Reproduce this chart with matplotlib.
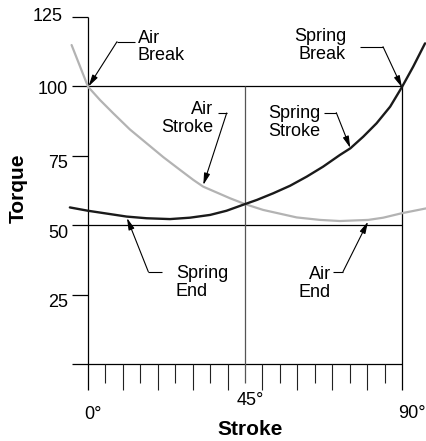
import matplotlib
matplotlib.use('Agg')
import matplotlib.pyplot as plt
from matplotlib import transforms

plt.rcParams['font.family'] = ['Liberation Sans', 'DejaVu Sans']

# ---- data ----
spring_stroke = [-5.2, 0.0, 11.1, 16.8, 23.5, 29.2, 35.0, 39.7, 45.0, 48.4, 53.1, 57.9,
                 62.7, 67.4, 72.2, 75.2, 78.9, 82.7, 86.6, 90.0, 93.2, 96.6]
spring_torque = [56.4, 55.2, 53.1, 52.5, 52.2, 52.7, 53.7, 55.2, 57.6, 59.1, 61.5, 64.2,
                 67.5, 71.1, 75.3, 77.7, 81.9, 86.7, 92.7, 99.8, 107.1, 115.5]
air_stroke = [-4.7, 0.0, 3.44, 7.25, 12.0, 16.8, 21.6, 26.4, 30.2, 33.0, 40.7, 45.0,
              50.2, 59.8, 66.5, 72.2, 80.3, 84.6, 89.9, 97.1]
air_torque = [114.9, 99.9, 95.1, 90.3, 84.5, 79.5, 74.5, 69.9, 66.3, 63.9, 59.7, 57.6,
              55.5, 52.8, 51.9, 51.5, 51.9, 52.7, 54.3, 56.1]

y_ticks = [25, 50, 75, 100, 125]
y_labels = ['25', '50', '75', '100', '125']
grid_levels = [0, 50, 100]
x_ticks = [0, 45, 90]
x_labels = ['0°', '45°', '90°']
minor_x = list(range(5, 90, 5))

fig = plt.figure(figsize=(4.27, 4.41), dpi=100)
ax = fig.add_axes([0, 0, 1, 1])
ax.set_xlim(-25.22, 97.16)
ax.set_ylim(-27.74, 131.12)
ax.axis('off')

def P(xp, yp):
    """pixel (from top-left) -> data coords"""
    return ((xp - 88) / 3.489, (364 - yp) / 2.776)

LW = 0.9
left_ext = P(72, 0)[0]
long_len = P(0, 390)[1]
short_len = P(0, 383)[1]

# y ticks (short outward lines)
for v in y_ticks:
    if v not in grid_levels:
        ax.plot([left_ext, 0], [v, v], color='k', lw=LW, solid_capstyle='butt')
# horizontal lines
for v in grid_levels:
    ax.plot([left_ext, 90], [v, v], color='k', lw=LW, solid_capstyle='butt')
# vertical lines
ax.plot([0, 0], [long_len, 125], color='k', lw=LW, solid_capstyle='butt')
ax.plot([45, 45], [short_len, 100], color='#555555', lw=LW, solid_capstyle='butt')
ax.plot([90, 90], [long_len, 100], color='k', lw=LW, solid_capstyle='butt')
# bottom ticks
for d in minor_x:
    if d == 45:
        continue
    bot = long_len if d % 10 == 0 else short_len
    ax.plot([d, d], [bot, 0], color='#222222', lw=0.8, solid_capstyle='butt')

# curves
ax.plot(air_stroke, air_torque, color='#b3b3b3', lw=1.6, solid_capstyle='round',
        solid_joinstyle='round')
ax.plot(spring_stroke, spring_torque, color='#1a1a1a', lw=1.7, solid_capstyle='round',
        solid_joinstyle='round')

FS = 13
# y tick labels
for v, lab in zip(y_ticks, y_labels):
    if v == 125:
        dx, dy = -25, 0
    elif v == 100:
        dx, dy = -20, -3
    else:
        dx, dy = -20, -8
    tr = transforms.offset_copy(ax.transData, fig=fig, x=dx, y=dy, units='dots')
    ax.text(0, v, lab, transform=tr, ha='right', va='center', fontsize=FS)

# x tick labels
x_offsets = [(5.5, -51), (5, -36.5), (9.7, -49.5)]
for v, lab, (dx, dy) in zip(x_ticks, x_labels, x_offsets):
    tr = transforms.offset_copy(ax.transData, fig=fig, x=dx, y=dy, units='dots')
    ax.text(v, 0, lab, transform=tr, ha='center', va='center', fontsize=FS)

# axis titles
ax.text(*P(250.5, 430), 'Stroke', ha='center', va='center', fontsize=15, fontweight='bold')
ax.text(*P(18.5, 188), 'Torque', ha='center', va='center', fontsize=15, fontweight='bold', rotation=90)

# annotations
ann = [
    ('Air\nBreak', (138, 47), 'left', [(135, 41.7), (117, 41.7)], (88.5, 86.5)),
    ('Air\nStroke', (213, 118.4), 'right', [(218, 113), (226.7, 113)], (203.3, 185)),
    ('Spring\nBreak', (346, 45.8), 'right', [(359.7, 46.7), (383, 46.7)], (402, 87.5)),
    ('Spring\nStroke', (268, 122.7), 'left', [(324, 112.7), (336.3, 112.7)], (350.3, 148)),
    ('Spring\nEnd', (176, 282.5), 'left', [(161.7, 271.7), (148.3, 271.7)], (127, 218)),
    ('Air\nEnd', (331, 283.3), 'right', [(333, 271.7), (343, 271.7)], (368, 221.7)),
]
for text, pos, ha, seg, tip in ann:
    ax.text(*P(*pos), text, ha=ha, va='center', multialignment=ha,
            fontsize=FS, linespacing=1.05)
    a, b = P(*seg[0]), P(*seg[1])
    ax.plot([a[0], b[0]], [a[1], b[1]], color='k', lw=0.8, solid_capstyle='butt')
    ax.annotate('', xy=P(*tip), xytext=b,
                arrowprops=dict(arrowstyle='-|>,head_length=0.7,head_width=0.18',
                                color='k', lw=0.8, shrinkA=0, shrinkB=0))

fig.savefig('out.png', dpi=100)
